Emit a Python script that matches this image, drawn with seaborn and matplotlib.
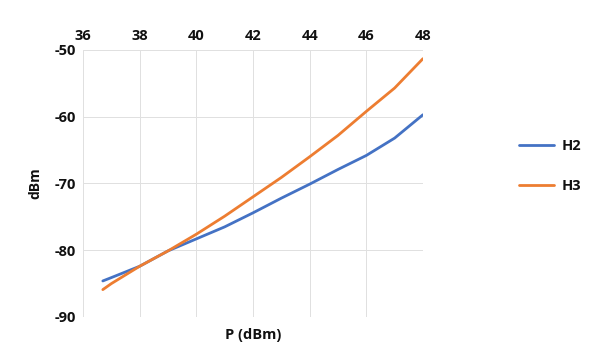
import matplotlib
matplotlib.use("Agg")
import matplotlib.pyplot as plt
import seaborn as sns
import pandas as pd

p_h2 = [36.7, 37, 38, 39, 40, 41, 42, 43, 44, 45, 46, 47, 48]
h2 = [-84.6, -84.1, -82.4, -80.1, -78.3, -76.5, -74.4, -72.2, -70.1, -67.9, -65.8, -63.2, -59.7]
p_h3 = [36.7, 37, 38, 39, 40, 41, 42, 43, 44, 45, 46, 47, 48]
h3 = [-85.9, -85.0, -82.4, -80.1, -77.6, -74.9, -72.0, -69.1, -66.0, -62.8, -59.2, -55.7, -51.3]
x_ticks = [36, 38, 40, 42, 44, 46, 48]
y_ticks = [-90, -80, -70, -60, -50]
series_names = ["H2", "H3"]

df = pd.concat([
    pd.DataFrame({"P": p_h2, "dBm": h2, "series": series_names[0]}),
    pd.DataFrame({"P": p_h3, "dBm": h3, "series": series_names[1]}),
])

sns.set_theme(style="white")
plt.rcParams["font.family"] = ["Open Sans", "DejaVu Sans"]
plt.rcParams["axes.unicode_minus"] = False
plt.rcParams["text.color"] = "#111111"
plt.rcParams["xtick.color"] = "#111111"
plt.rcParams["ytick.color"] = "#111111"
plt.rcParams["axes.labelcolor"] = "#111111"

fig = plt.figure(figsize=(6.12, 3.61), dpi=100, facecolor="white")
ax = fig.add_axes([0.1356, 0.1219, 0.5555, 0.7396])
palette = {"H2": "#4472C4", "H3": "#ED7D31"}
sns.lineplot(data=df, x="P", y="dBm", hue="series", palette=palette,
             linewidth=2.0, ax=ax, legend=False, sort=True)

ax.set_xlim(36, 48)
ax.set_ylim(-90, -50)
ax.set_xticks(x_ticks)
ax.set_yticks(y_ticks)
ax.xaxis.tick_top()
ax.tick_params(axis="both", length=0, labelsize=10.5, pad=5)
for lab in ax.get_xticklabels() + ax.get_yticklabels():
    lab.set_fontweight("bold")
ax.grid(True, color="#E0E0E0", linewidth=0.7)
ax.set_axisbelow(True)
for s in ax.spines.values():
    s.set_visible(False)
ax.set_xlabel("P (dBm)", fontsize=10.5, fontweight="bold", labelpad=8)
ax.xaxis.set_label_position("bottom")
ax.set_ylabel("dBm", fontsize=10, fontweight="bold", labelpad=9)

handles = [plt.Line2D([], [], color=palette[n], linewidth=2.0) for n in series_names]
fig.legend(handles, series_names, loc="center left", bbox_to_anchor=(0.827, 0.54),
           frameon=False, labelspacing=1.8, handlelength=2.4, handletextpad=0.5,
           prop={"weight": "bold", "size": 10.5})

fig.savefig("out.png", dpi=100, facecolor="white")
